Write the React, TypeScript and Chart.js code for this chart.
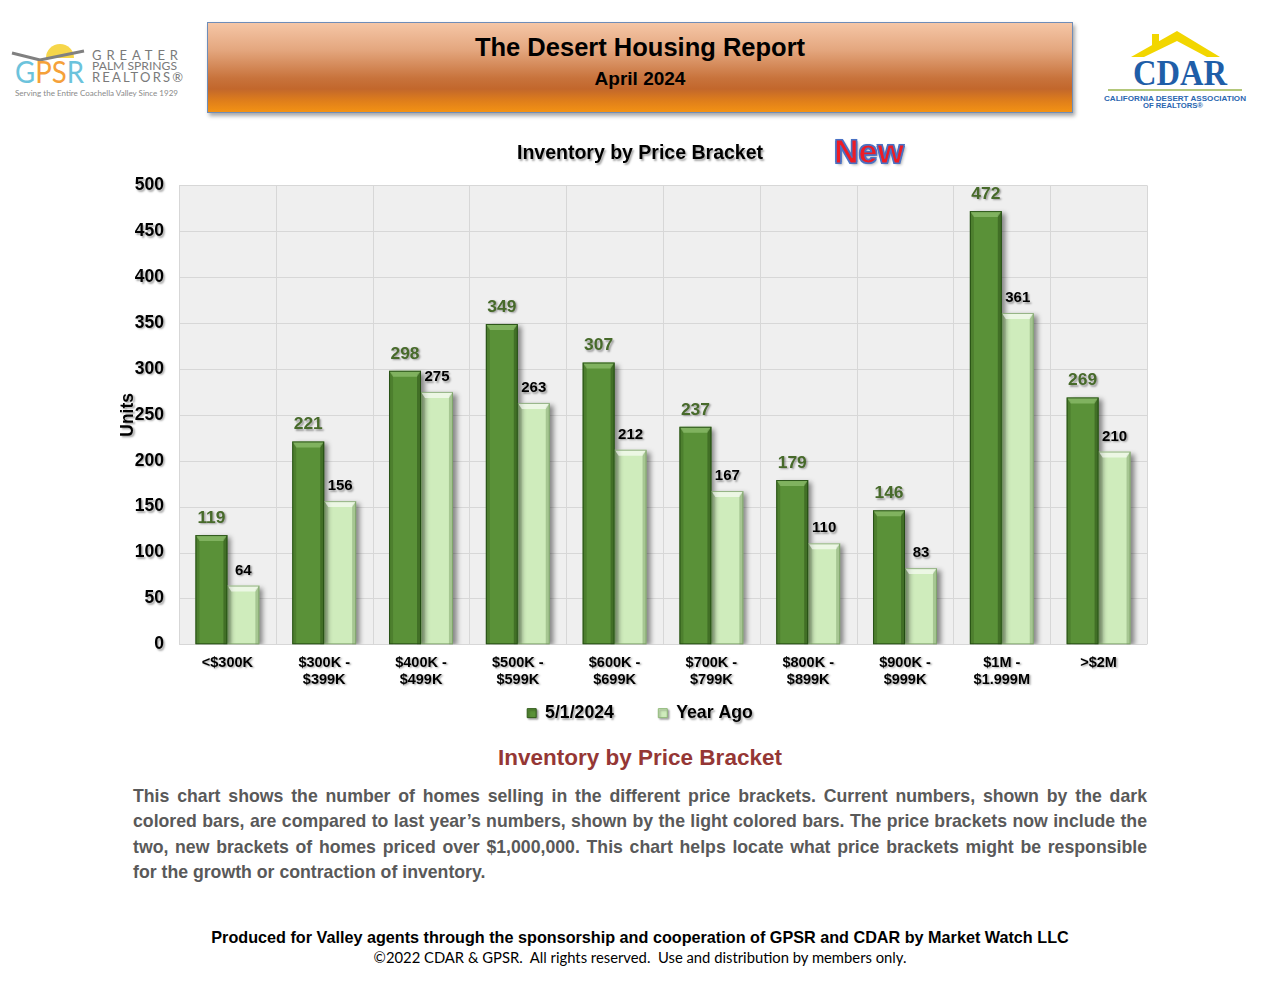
import React, { useEffect, useRef } from 'react';
import { Chart, registerables } from 'chart.js';

Chart.register(...registerables);

const categories: (string | string[])[] = [
  '<$300K',
  ['$300K -', '$399K'],
  ['$400K -', '$499K'],
  ['$500K -', '$599K'],
  ['$600K -', '$699K'],
  ['$700K -', '$799K'],
  ['$800K -', '$899K'],
  ['$900K -', '$999K'],
  ['$1M -', '$1.999M'],
  '>$2M',
];
const currentValues = [119, 221, 298, 349, 307, 237, 179, 146, 472, 269];
const yearAgoValues = [64, 156, 275, 263, 212, 167, 110, 83, 361, 210];
const seriesNames = ['5/1/2024', 'Year Ago'];
const yTickValues = [0, 50, 100, 150, 200, 250, 300, 350, 400, 450, 500];

const FONT = '"Liberation Sans", Arial, Helvetica, sans-serif';

const decorPlugin = {
  id: 'decor',
  beforeDraw(chart: any) {
    const { ctx, chartArea: a, scales } = chart;
    ctx.save();
    ctx.shadowColor = 'rgba(0,0,0,0)';
    ctx.fillStyle = '#efefef';
    ctx.fillRect(a.left, a.top, a.right - a.left, a.bottom - a.top);
    ctx.strokeStyle = '#d7d7d7';
    ctx.lineWidth = 1;
    const ys = scales.y;
    ys.ticks.forEach((t: any) => {
      const py = Math.round(ys.getPixelForValue(t.value)) + 0.5;
      ctx.beginPath();
      ctx.moveTo(a.left, py);
      ctx.lineTo(a.right, py);
      ctx.stroke();
    });
    const n = chart.data.labels.length;
    for (let i = 0; i <= n; i++) {
      const px = Math.round(a.left + ((a.right - a.left) * i) / n) + 0.5;
      ctx.beginPath();
      ctx.moveTo(px, a.top);
      ctx.lineTo(px, a.bottom);
      ctx.stroke();
    }
    ctx.restore();
    ctx.shadowColor = 'rgba(0,0,0,0.35)';
    ctx.shadowOffsetX = 1.5;
    ctx.shadowOffsetY = 1.5;
    ctx.shadowBlur = 2;
  },
  beforeDatasetsDraw(chart: any) {
    const { ctx } = chart;
    ctx.shadowColor = 'rgba(0,0,0,0.45)';
    ctx.shadowOffsetX = 4;
    ctx.shadowOffsetY = 2;
    ctx.shadowBlur = 5;
  },
  afterDatasetsDraw(chart: any) {
    const { ctx } = chart;
    ctx.save();
    ctx.shadowColor = 'rgba(0,0,0,0)';
    chart.data.datasets.forEach((ds: any, di: number) => {
      const meta = chart.getDatasetMeta(di);
      meta.data.forEach((el: any) => {
        const { x, y, base, width } = el.getProps(['x', 'y', 'base', 'width'], true);
        const l = x - width / 2;
        const r = x + width / 2;
        const t = y;
        const b = base;
        const bv = 4;
        const dark = di === 0;
        ctx.fillStyle = dark ? 'rgba(20,50,5,0.35)' : 'rgba(60,100,40,0.28)';
        ctx.beginPath();
        ctx.moveTo(r - bv, t + bv);
        ctx.lineTo(r, t);
        ctx.lineTo(r, b);
        ctx.lineTo(r - bv, b);
        ctx.closePath();
        ctx.fill();
        ctx.fillStyle = dark ? 'rgba(20,50,5,0.18)' : 'rgba(60,100,40,0.1)';
        ctx.beginPath();
        ctx.moveTo(l, t);
        ctx.lineTo(l + bv, t + bv);
        ctx.lineTo(l + bv, b);
        ctx.lineTo(l, b);
        ctx.closePath();
        ctx.fill();
        ctx.fillStyle = dark ? 'rgba(200,240,170,0.35)' : 'rgba(255,255,255,0.6)';
        ctx.beginPath();
        ctx.moveTo(l, t);
        ctx.lineTo(r, t);
        ctx.lineTo(r - bv, t + bv + 2);
        ctx.lineTo(l + bv, t + bv + 2);
        ctx.closePath();
        ctx.fill();
        ctx.strokeStyle = dark ? 'rgba(30,70,15,0.85)' : 'rgba(110,150,90,0.7)';
        ctx.lineWidth = 1;
        ctx.strokeRect(l + 0.5, t + 0.5, width - 1, b - t - 1);
      });
    });
    ctx.restore();

    ctx.save();
    ctx.shadowColor = 'rgba(0,0,0,0.35)';
    ctx.shadowOffsetX = 1.5;
    ctx.shadowOffsetY = 1.5;
    ctx.shadowBlur = 2;
    ctx.textAlign = 'center';
    ctx.textBaseline = 'middle';
    chart.data.datasets.forEach((ds: any, di: number) => {
      const meta = chart.getDatasetMeta(di);
      ctx.font = di === 0 ? `bold 17.4px ${FONT}` : `bold 15px ${FONT}`;
      ctx.fillStyle = di === 0 ? '#476a2a' : '#000000';
      meta.data.forEach((el: any, i: number) => {
        const { x, y } = el.getProps(['x', 'y'], true);
        ctx.fillText(String(ds.data[i]), x, y - (di === 0 ? 17 : 15));
      });
    });
    ctx.restore();
  },
  afterDraw(chart: any) {
    const { ctx } = chart;
    ctx.shadowColor = 'rgba(0,0,0,0)';
    ctx.shadowOffsetX = 0;
    ctx.shadowOffsetY = 0;
    ctx.shadowBlur = 0;
  },
};

function BarChart() {
  const ref = useRef<HTMLCanvasElement | null>(null);
  useEffect(() => {
    if (!ref.current) return;
    Chart.defaults.font.family = FONT;
    const chart = new Chart(ref.current, {
      type: 'bar',
      data: {
        labels: categories as any,
        datasets: [
          {
            label: seriesNames[0],
            data: currentValues,
            backgroundColor: '#5a9138',
            borderWidth: 0,
            yAxisID: 'y',
          },
          {
            label: seriesNames[1],
            data: yearAgoValues,
            backgroundColor: '#cfecbc',
            borderWidth: 0,
            yAxisID: 'y',
          },
        ],
      },
      options: {
        animation: false,
        responsive: false,
        maintainAspectRatio: false,
        devicePixelRatio: 1,
        layout: { padding: 0 },
        datasets: { bar: { categoryPercentage: 0.66, barPercentage: 1.0 } } as any,
        plugins: {
          title: {
            display: true,
            text: 'Inventory by Price Bracket',
            color: '#000',
            font: { size: 19.5, weight: 'bold', family: FONT },
            padding: { top: 12, bottom: 20 },
          },
          legend: {
            position: 'bottom',
            labels: {
              color: '#000',
              boxWidth: 9,
              boxHeight: 9,
              padding: 10,
              font: { size: 17.7, weight: 'bold', family: FONT },
              generateLabels: (c: any) => {
                const items = (Chart.defaults.plugins.legend.labels as any).generateLabels(c);
                items.forEach((it: any, i: number) => {
                  it.lineWidth = 1;
                  it.strokeStyle = i === 0 ? '#2f5a18' : '#8fb878';
                  if (i === 0) it.text = it.text + '       ';
                });
                return items;
              },
            },
          },
          tooltip: { enabled: false },
        },
        scales: {
          x: {
            grid: { display: false, drawTicks: false },
            border: { display: false },
            ticks: {
              color: '#000',
              font: { size: 14.5, weight: 'bold', lineHeight: 1.17, family: FONT },
              padding: 10,
              maxRotation: 0,
              autoSkip: false,
            },
            afterFit: (s: any) => {
              s.height = 50;
            },
          },
          y: {
            position: 'left',
            min: 0,
            max: 500,
            afterBuildTicks: (s: any) => {
              s.ticks = yTickValues.map((v) => ({ value: v }));
            },
            grid: { display: false, drawTicks: false },
            border: { display: false },
            ticks: {
              color: '#000',
              font: { size: 17.5, weight: 'bold', family: FONT },
              padding: 15,
            },
            title: {
              display: true,
              text: 'Units',
              color: '#000',
              font: { size: 17.5, weight: 'bold', family: FONT },
              padding: { top: 18, bottom: 0 },
            },
            afterFit: (s: any) => {
              s.width = 79;
            },
          },
          yRight: {
            type: 'linear',
            position: 'right',
            display: true,
            grid: { display: false, drawTicks: false },
            border: { display: false },
            ticks: { display: false },
            afterFit: (s: any) => {
              s.width = 33;
            },
          },
        },
      } as any,
      plugins: [decorPlugin as any],
    });
    return () => chart.destroy();
  }, []);
  return (
    <canvas
      ref={ref}
      width={1080}
      height={602}
      style={{ position: 'absolute', left: 100, top: 130, width: 1080, height: 602 }}
    />
  );
}

function GpsrLogo() {
  return (
    <svg width={190} height={70} viewBox="0 0 190 70" style={{ position: 'absolute', left: 0, top: 36 }}>
      <path d="M46,22 A14,14 0 0 1 74,22 Z" fill="#f6d64a" />
      <polyline points="12,17 40,24 84,15" fill="none" stroke="#808080" strokeWidth={3} />
      <text x={15} y={47} fontFamily="Lato, 'Open Sans', sans-serif" fontSize={30} textLength={69} lengthAdjust="spacingAndGlyphs">
        <tspan fill="#6cc3dc">G</tspan>
        <tspan fill="#f5a13a">PS</tspan>
        <tspan fill="#6cc3dc">R</tspan>
      </text>
      <text x={92} y={23.5} fill="#7a7a7a" fontFamily="Lato, sans-serif" fontSize={13} textLength={86} lengthAdjust="spacing">GREATER</text>
      <text x={92} y={34} fill="#7a7a7a" fontFamily="Lato, sans-serif" fontSize={11.5} textLength={85} lengthAdjust="spacingAndGlyphs">PALM SPRINGS</text>
      <text x={92} y={46} fill="#7a7a7a" fontFamily="Lato, sans-serif" fontSize={13} textLength={91} lengthAdjust="spacing">REALTORS®</text>
      <text x={15} y={59.5} fill="#8a8a8a" fontFamily="Lato, sans-serif" fontSize={7} textLength={163} lengthAdjust="spacingAndGlyphs">Serving the Entire Coachella Valley Since 1929</text>
    </svg>
  );
}

function CdarLogo() {
  return (
    <svg width={160} height={90} viewBox="0 0 160 90" style={{ position: 'absolute', left: 1096, top: 24 }}>
      <rect x={56} y={10} width={7} height={12} fill="#f2d600" />
      <polygon points="35,33 81,7 124,33 111,33 81,17 48,33" fill="#f2d600" />
      <text x={37} y={61} fill="#1f5ea8" fontFamily="'Liberation Serif', 'DejaVu Serif', serif" fontWeight="bold" fontSize={36} textLength={94} lengthAdjust="spacingAndGlyphs">CDAR</text>
      <rect x={12} y={65} width={134} height={2} fill="#b3c77a" />
      <text x={8} y={77} fill="#2a66b0" fontFamily={FONT} fontWeight="bold" fontSize={7.5} textLength={142} lengthAdjust="spacingAndGlyphs">CALIFORNIA DESERT ASSOCIATION</text>
      <text x={47} y={84} fill="#2a66b0" fontFamily={FONT} fontWeight="bold" fontSize={7} textLength={60} lengthAdjust="spacingAndGlyphs">OF REALTORS®</text>
    </svg>
  );
}

const paragraphLines = [
  'This chart shows the number of homes selling in the different price brackets. Current numbers, shown by the dark',
  'colored bars, are compared to last year’s numbers, shown by the light colored bars. The price brackets now include the',
  'two, new brackets of homes priced over $1,000,000. This chart helps locate what price brackets might be responsible',
  'for the growth or contraction of inventory.',
];

export default function App() {
  useEffect(() => {
    document.body.style.margin = '0';
  }, []);
  return (
    <div style={{ position: 'relative', width: 1280, height: 989, background: '#fff', overflow: 'hidden', fontFamily: FONT }}>
      <GpsrLogo />
      <CdarLogo />
      <div
        style={{
          position: 'absolute',
          left: 207,
          top: 22,
          width: 864,
          height: 89,
          border: '1px solid #6f8db8',
          background: 'linear-gradient(to bottom, #f5c6a6 0%, #e4a77f 30%, #c8733c 62%, #c2672c 74%, #e07f1a 88%, #f39214 100%)',
          boxShadow: '2px 3px 4px rgba(0,0,0,0.35)',
        }}
      >
        <div style={{ position: 'absolute', left: 0, right: 0, top: 10, textAlign: 'center', fontWeight: 'bold', fontSize: 25.5, color: '#000' }}>
          The Desert Housing Report
        </div>
        <div style={{ position: 'absolute', left: 0, right: 0, top: 45, textAlign: 'center', fontWeight: 'bold', fontSize: 19, color: '#000' }}>
          April 2024
        </div>
      </div>
      <BarChart />
      <div
        style={{
          position: 'absolute',
          left: 834,
          top: 132,
          fontWeight: 'bold',
          fontSize: 34,
          color: '#ee1c25',
          WebkitTextStroke: '1px #4a72c4',
          textShadow: '0 0 2px #4a72c4, 1px 1px 0 #4a72c4, -1px -1px 0 #4a72c4, 1px -1px 0 #4a72c4, -1px 1px 0 #4a72c4, 2px 2px 3px rgba(0,0,0,0.3)',
        }}
      >
        New
      </div>
      <div style={{ position: 'absolute', left: 0, width: 1280, top: 745, textAlign: 'center', fontWeight: 'bold', fontSize: 22.5, color: '#953735' }}>
        Inventory by Price Bracket
      </div>
      <div style={{ position: 'absolute', left: 133, width: 1014, top: 784 }}>
        {paragraphLines.map((ln, i) => (
          <div
            key={i}
            style={{
              fontWeight: 'bold',
              fontSize: 17.7,
              lineHeight: '25.3px',
              color: '#595959',
              textAlign: 'justify',
              textAlignLast: i < paragraphLines.length - 1 ? 'justify' : 'left',
              whiteSpace: 'nowrap',
            } as any}
          >
            {ln}
          </div>
        ))}
      </div>
      <div style={{ position: 'absolute', left: 0, width: 1280, top: 928, textAlign: 'center', fontWeight: 'bold', fontSize: 16.2, color: '#000' }}>
        Produced for Valley agents through the sponsorship and cooperation of GPSR and CDAR by Market Watch LLC
      </div>
      <div style={{ position: 'absolute', left: 0, width: 1280, top: 948, textAlign: 'center', fontSize: 14.8, color: '#000', fontFamily: 'Lato, "Open Sans", sans-serif', whiteSpace: 'pre' }}>
        {'©2022 CDAR & GPSR.  All rights reserved.  Use and distribution by members only.'}
      </div>
    </div>
  );
}
